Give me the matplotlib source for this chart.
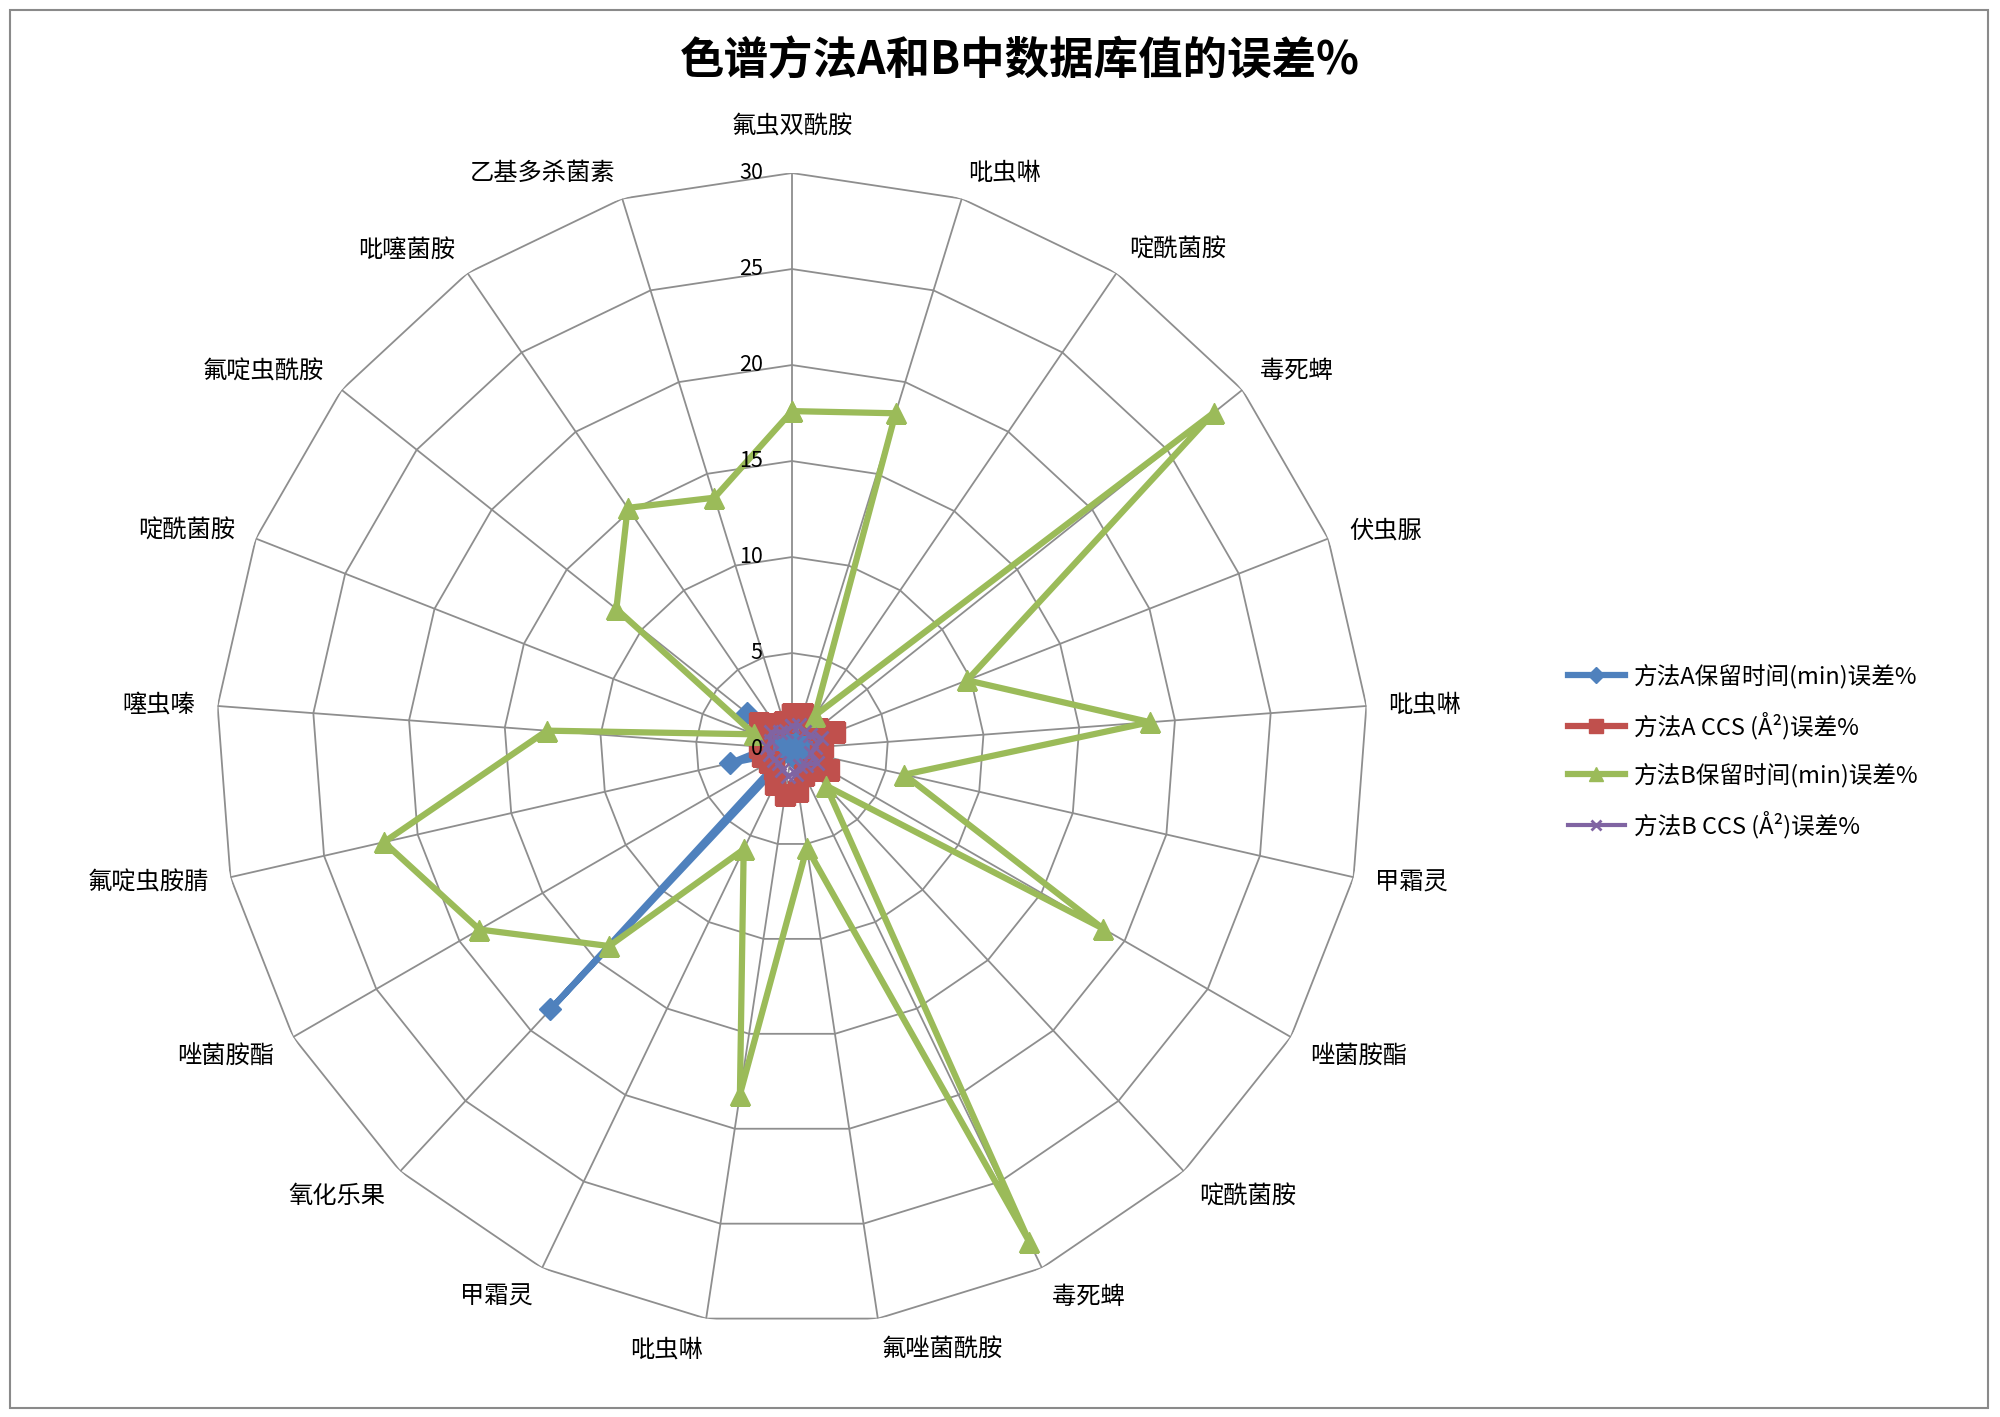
import numpy as np
import matplotlib
matplotlib.use("Agg")
import matplotlib.pyplot as plt
from matplotlib.patches import Rectangle

plt.rcParams['font.family'] = ['Noto Sans CJK SC', 'DejaVu Sans']

categories = ['氟虫双酰胺', '吡虫啉', '啶酰菌胺', '毒死蜱', '伏虫脲', '吡虫啉', '甲霜灵',
              '唑菌胺酯', '啶酰菌胺', '毒死蜱', '氟唑菌酰胺', '吡虫啉', '甲霜灵', '氧化乐果',
              '唑菌胺酯', '氟啶虫胺腈', '噻虫嗪', '啶酰菌胺', '氟啶虫酰胺', '吡噻菌胺', '乙基多杀菌素']

a_rt = [0.5, 0.6, 0.4, 0.5, 0.8, 0.6, 0.5, 0.6, 0.4, 0.5, 0.4,
        0.3, 0.3, 18.5, 0.3, 3.3, 1.2, 1.0, 3.0, 0.8, 0.6]
a_ccs = [1.8, 1.9, 1.6, 1.7, 2.4, 1.6, 1.5, 2.2, 1.5, 1.5, 2.2,
         2.4, 2.0, 1.4, 1.4, 1.6, 1.7, 1.7, 2.2, 1.6, 1.5]
b_rt = [17.6, 18.3, 2.1, 28.1, 9.8, 18.7, 6.0, 18.7, 2.6, 28.5, 5.2,
        18.2, 5.8, 14.0, 18.8, 21.8, 12.8, 2.1, 11.7, 15.2, 13.7]
b_ccs = [1.2, 1.3, 1.1, 1.2, 1.6, 1.2, 1.0, 1.5, 1.1, 1.0, 1.3,
         1.4, 1.2, 1.0, 1.1, 1.2, 1.3, 1.2, 1.4, 1.1, 1.0]

series_names = ['方法A保留时间(min)误差%', '方法A CCS (Å²)误差%',
                '方法B保留时间(min)误差%', '方法B CCS (Å²)误差%']
r_ticks = [0, 5, 10, 15, 20, 25, 30]

n = len(categories)
theta = np.arange(n) * 2 * np.pi / n
theta_c = np.append(theta, theta[0])

fig = plt.figure(figsize=(20, 14.17), dpi=100)
ax = fig.add_axes([0.108, 0.0649, 0.576, 0.813], projection='polar')
ax.set_theta_zero_location('N')
ax.set_theta_direction(-1)
ax.set_ylim(0, 30)
ax.grid(False)
ax.spines['polar'].set_visible(False)
ax.set_xticks([])
ax.set_yticks([])

grid_c = '#8e8e8e'
for r in r_ticks[1:]:
    ax.plot(theta_c, [r] * (n + 1), color=grid_c, lw=1.3, zorder=1)
for t in theta:
    ax.plot([t, t], [0, 30], color=grid_c, lw=1.3, zorder=1)

def closed(v):
    return list(v) + [v[0]]

l1, = ax.plot(theta_c, closed(a_rt), color='#4F81BD', lw=4.5, marker='D', ms=11, zorder=3)
l2, = ax.plot(theta_c, closed(a_ccs), color='#C0504D', lw=4.5, marker='s', ms=14, zorder=4)
l3, = ax.plot(theta_c, closed(b_rt), color='#9BBB59', lw=4.5, marker='^', ms=15, zorder=5)
l4, = ax.plot(theta_c, closed(b_ccs), color='#8064A2', lw=3, marker='x', ms=10, mew=2, zorder=6)

# category labels outside the outer ring
for t, lab in zip(theta, categories):
    s, c = np.sin(t), np.cos(t)
    ha = 'left' if s > 0.1 else ('right' if s < -0.1 else 'center')
    if c > 0.45:
        va = 'bottom'
    elif c < -0.45:
        va = 'top'
    else:
        va = 'center'
    if abs(s) < 0.05:
        dx, dy = 0, 24
    else:
        dx, dy = s * 16, c * 16
        if va == 'bottom':
            dy -= 6
        elif va == 'top':
            dy += 3
    ax.annotate(lab, xy=(t, 30), xytext=(dx, dy), textcoords='offset points',
                ha=ha, va=va, fontsize=17.5, zorder=10)

# radial value labels beside the top spoke
for r in r_ticks:
    ax.annotate(str(r), xy=(0, r), xytext=(-21, 0), textcoords='offset points',
                ha='right', va='center', fontsize=15.5, zorder=10)

fig.text(0.51, 0.957, '色谱方法A和B中数据库值的误差%', ha='center', va='center',
         fontsize=32, fontweight='bold')

fig.legend([l1, l2, l3, l4], series_names, loc='center left', bbox_to_anchor=(0.784, 0.47),
           frameon=False, fontsize=17, labelspacing=1.0, handlelength=2.4,
           handletextpad=0.4, borderpad=0, borderaxespad=0, markerscale=0.7)

fig.patches.append(Rectangle((0.005, 0.006), 0.989, 0.987, transform=fig.transFigure,
                             fill=False, edgecolor='#8a8a8a', lw=1.5))

fig.savefig('out.png', dpi=100, facecolor='white')
